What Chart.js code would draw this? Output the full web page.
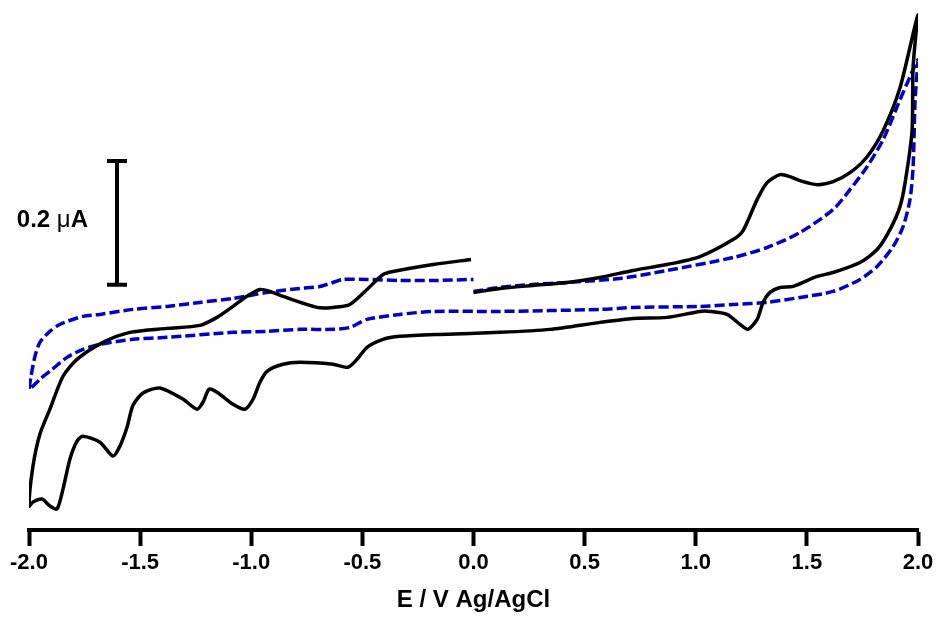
<!DOCTYPE html>
<html>
<head>
<meta charset="utf-8">
<script src="https://cdn.jsdelivr.net/npm/chart.js@4"></script>
<style>
  html, body { margin: 0; padding: 0; background: #fff; }
  #cvWrap { position: relative; width: 940px; height: 617px; }
</style>
</head>
<body>
<div id="cvWrap"><canvas id="cvChart" width="940" height="617"></canvas></div>
<script>
// potential (V vs Ag/AgCl) and current (uA), black solid scan
const blackE = [0.0, 0.119, 0.268, 0.421, 0.569, 0.718, 0.871, 1.019, 1.168, 1.213, 1.276, 1.321, 1.379, 1.424, 1.469, 1.546, 1.618, 1.694, 1.771, 1.843, 1.919, 2.0,
  1.978, 1.973, 1.942, 1.919, 1.874, 1.816, 1.739, 1.618, 1.546, 1.438, 1.379, 1.334, 1.303, 1.276, 1.235, 1.199, 1.141, 1.064, 1.019, 0.871, 0.718, 0.569, 0.344, 0.119,
  -0.151, -0.331, -0.407, -0.479, -0.524, -0.565, -0.632, -0.781, -0.857, -0.929, -0.961, -0.992, -1.028, -1.082, -1.154, -1.19, -1.217, -1.244, -1.307, -1.411, -1.487,
  -1.532, -1.559, -1.591, -1.622, -1.681, -1.757, -1.784, -1.816, -1.847, -1.874, -1.906, -1.942, -1.982, -2.0,
  -1.982, -1.951, -1.906, -1.847, -1.784, -1.667, -1.546, -1.379, -1.231, -1.154, -1.082, -1.028, -0.961, -0.916, -0.857, -0.704, -0.632, -0.556, -0.479, -0.407, -0.362, -0.182, -0.011];
const blackI = [-0.0145, -0.0081, -0.0032, 0.0016, 0.0097, 0.021, 0.0306, 0.0435, 0.071, 0.0855, 0.1355, 0.1629, 0.1758, 0.1726, 0.1661, 0.1597, 0.1645, 0.179, 0.2048, 0.2468, 0.3161, 0.4339,
  0.35, 0.2452, 0.1629, 0.1242, 0.0871, 0.0548, 0.0339, 0.0177, 0.0113, -0.0048, -0.0065, -0.0145, -0.0306, -0.0581, -0.0742, -0.0661, -0.05, -0.0452, -0.0452, -0.0548, -0.0565, -0.0629, -0.0742, -0.079,
  -0.0823, -0.0855, -0.0903, -0.1032, -0.1226, -0.1355, -0.1306, -0.1274, -0.1306, -0.1419, -0.1597, -0.1871, -0.2032, -0.1952, -0.1758, -0.171, -0.1919, -0.2032, -0.1871, -0.169, -0.177,
  -0.1968, -0.2323, -0.2629, -0.279, -0.2565, -0.2468, -0.2548, -0.2839, -0.3323, -0.3645, -0.3597, -0.3484, -0.3532, -0.3597,
  -0.295, -0.2435, -0.2032, -0.15, -0.1226, -0.0952, -0.079, -0.0726, -0.0677, -0.0548, -0.0371, -0.0226, -0.0097, -0.0129, -0.021, -0.0387, -0.0387, -0.0339, -0.0097, 0.0145, 0.0194, 0.0306, 0.0387];

// blue dashed scan
const blueE = [0.0, 0.119, 0.268, 0.421, 0.659, 0.871, 1.168, 1.321, 1.469, 1.618, 1.694, 1.771, 1.843, 1.919, 1.964, 2.0,
  1.987, 1.978, 1.964, 1.933, 1.888, 1.816, 1.739, 1.618, 1.469, 1.321, 1.168, 1.019, 0.718, 0.569, 0.119, -0.182, -0.331, -0.479, -0.556, -0.632, -0.781, -0.929, -1.082, -1.379, -1.532, -1.681, -1.757, -1.829, -1.906, -1.951, -2.0,
  -1.991, -1.973, -1.951, -1.906, -1.861, -1.757, -1.681, -1.532, -1.379, -1.231, -1.082, -0.929, -0.781, -0.691, -0.632, -0.587, -0.479, -0.331, -0.182, 0.0];
const blueI = [-0.0129, -0.0065, -0.0016, 0.0016, 0.0081, 0.021, 0.0419, 0.0581, 0.0823, 0.1194, 0.1516, 0.1887, 0.2323, 0.2968, 0.3339, 0.3613,
  0.2968, 0.1887, 0.1355, 0.0919, 0.0597, 0.0274, 0.0065, -0.0129, -0.0226, -0.0306, -0.0339, -0.0371, -0.0387, -0.0419, -0.0452, -0.0452, -0.05, -0.0581, -0.071, -0.0742, -0.0742, -0.0774, -0.079, -0.0871, -0.0903, -0.0984, -0.1065, -0.1194, -0.1419, -0.1548, -0.171,
  -0.15, -0.1177, -0.0952, -0.0774, -0.0661, -0.0532, -0.05, -0.0419, -0.0371, -0.0306, -0.0242, -0.0145, -0.0081, -0.0048, 0.0016, 0.0065, 0.0065, 0.0048, 0.0048, 0.0065];

const tickValues = [-2.0, -1.5, -1.0, -0.5, 0.0, 0.5, 1.0, 1.5, 2.0];

// scale bar: 0.2 uA
const scaleBarE = -1.604;
const scaleBarBottom = -0.002;
const scaleBarSize = 0.2;
const scaleBarLabel = "0.2 μA";

const toPoints = function(xs, ys) {
  return xs.map(function(x, i) { return { x: x, y: ys[i] }; });
};

const capHalf = 0.045;
const scaleBarPoints = [
  { x: scaleBarE - capHalf, y: scaleBarBottom + scaleBarSize },
  { x: scaleBarE + capHalf, y: scaleBarBottom + scaleBarSize },
  { x: scaleBarE, y: null },
  { x: scaleBarE, y: scaleBarBottom + scaleBarSize },
  { x: scaleBarE, y: scaleBarBottom },
  { x: scaleBarE, y: null },
  { x: scaleBarE - capHalf, y: scaleBarBottom },
  { x: scaleBarE + capHalf, y: scaleBarBottom }
];

const fontFamily = "'Liberation Sans', Arial, Helvetica, sans-serif";

const scaleBarText = {
  id: "scaleBarText",
  afterDatasetsDraw: function(chart) {
    const ctx = chart.ctx;
    const xs = chart.scales.x, ys = chart.scales.y;
    const right = xs.getPixelForValue(scaleBarE) - 29;
    const mid = (ys.getPixelForValue(scaleBarBottom) + ys.getPixelForValue(scaleBarBottom + scaleBarSize)) / 2;
    const parts = scaleBarLabel.split(/(μ)/);
    ctx.save();
    ctx.fillStyle = "#000";
    ctx.textBaseline = "alphabetic";
    const fonts = parts.map(function(p) {
      return (p === "μ" ? "normal " : "bold ") + "24px " + fontFamily;
    });
    let total = 0;
    parts.forEach(function(p, i) { ctx.font = fonts[i]; total += ctx.measureText(p).width; });
    let x = right - total;
    parts.forEach(function(p, i) {
      ctx.font = fonts[i];
      ctx.fillText(p, x, mid + 4);
      x += ctx.measureText(p).width;
    });
    ctx.restore();
  }
};

const context = document.getElementById("cvChart").getContext("2d");
const chart = new Chart(context, {
  type: "scatter",
  data: {
    datasets: [{
      label: "black",
      data: toPoints(blackE, blackI),
      showLine: true,
      borderColor: "#000",
      borderWidth: 3.5,
      pointRadius: 0,
      tension: 0.25
    }, {
      label: "blue",
      data: toPoints(blueE, blueI),
      showLine: true,
      borderColor: "#0000c8",
      borderWidth: 3.5,
      borderDash: [10, 4],
      pointRadius: 0,
      tension: 0.25
    }, {
      label: "scale bar",
      data: scaleBarPoints,
      showLine: true,
      spanGaps: false,
      borderColor: "#000",
      borderWidth: 4,
      pointRadius: 0,
      tension: 0
    }]
  },
  options: {
    responsive: false,
    animation: false,
    maintainAspectRatio: false,
    layout: { padding: { top: 9, left: 29, right: 22, bottom: 0 } },
    plugins: { legend: { display: false }, tooltip: { enabled: false } },
    scales: {
      x: {
        type: "linear",
        min: -2,
        max: 2,
        afterBuildTicks: function(axis) {
          axis.ticks = tickValues.map(function(v) { return { value: v }; });
        },
        ticks: {
          color: "#000",
          padding: 6,
          maxRotation: 0,
          autoSkip: false,
          font: { family: fontFamily, size: 22, weight: "bold", lineHeight: 1 },
          callback: function(v) { return v.toFixed(1); }
        },
        grid: {
          display: true,
          drawOnChartArea: false,
          drawTicks: true,
          tickLength: 16,
          tickWidth: 4,
          tickColor: "#000"
        },
        border: { display: true, color: "#000", width: 4 },
        title: {
          display: true,
          text: "E / V Ag/AgCl",
          color: "#000",
          font: { family: fontFamily, size: 24, weight: "bold", lineHeight: 1 },
          padding: { top: 8, bottom: 5 }
        }
      },
      y: {
        type: "linear",
        display: false,
        min: -0.3984,
        max: 0.4435
      }
    }
  },
  plugins: [scaleBarText]
});
</script>
</body>
</html>
